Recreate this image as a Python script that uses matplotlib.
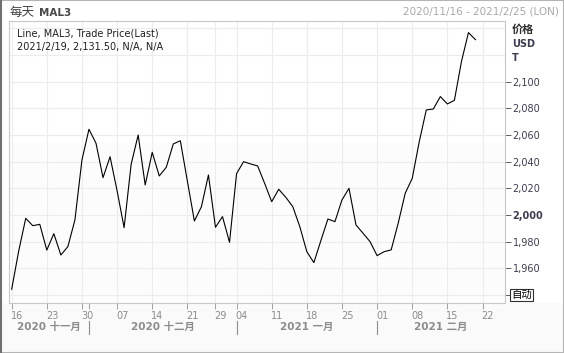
import numpy as np
import pandas as pd
import matplotlib
matplotlib.use('Agg')
import matplotlib.pyplot as plt
import matplotlib.transforms as mtransforms
from matplotlib.lines import Line2D
from matplotlib.patches import Rectangle

plt.rcParams['font.family'] = ['DejaVu Sans', 'Noto Sans CJK SC']

# LME trading days shown on the axis (holidays dropped)
holidays = ['2020-12-25', '2020-12-28', '2021-01-01']
axisDates = pd.bdate_range('2020-11-16', '2021-02-25')
axisDates = axisDates[~axisDates.isin(pd.to_datetime(holidays))]

# daily close, 2020/11/16 .. 2021/2/19
prices = [1944.3, 1973.0, 1997.5, 1992.0, 1993.0, 1973.7, 1986.0, 1970.0, 1976.3, 1996.3,
          2041.3, 2064.3, 2053.8, 2028.0, 2043.7, 2018.2, 1990.5, 2038.0, 2060.0, 2022.5,
          2047.0, 2029.3, 2035.8, 2053.3, 2055.7, 2025.5, 1995.5, 2006.2, 2030.0, 1990.8,
          1998.8, 1979.5, 2031.0, 2040.0, 2038.3, 2036.8, 2023.7, 2010.0, 2019.3, 2013.3,
          2006.3, 1991.3, 1972.5, 1964.3, 1980.8, 1997.0, 1995.0, 2011.3, 2020.0, 1992.5,
          1986.3, 1980.0, 1969.5, 1972.5, 1973.8, 1993.8, 2016.3, 2027.5, 2055.0, 2078.8,
          2079.5, 2088.8, 2083.3, 2086.0, 2115.0, 2136.8, 2131.5]

yTicks = [1960, 1980, 2000, 2020, 2040, 2060, 2080, 2100]
yGrid = list(range(1940, 2141, 20))
monthNames = {11: '十一月', 12: '十二月', 1: '一月', 2: '二月'}

titleLeft = '每天'
titleCode = 'MAL3'
titleRight = '2020/11/16 - 2021/2/25 (LON)'
infoLines = ['Line, MAL3, Trade Price(Last)', '2021/2/19, 2,131.50, N/A, N/A']

W, H = 564, 353
fig = plt.figure(figsize=(W / 100, H / 100), dpi=100)
fig.patch.set_facecolor('white')

# light gray strip behind the date labels
fig.add_artist(Rectangle((0, 0), 1, 1 - 303 / H, transform=fig.transFigure,
                         fc='#fafafa', ec='none', zorder=-1))

axL, axR, axT, axB = 9, 505, 21, 303
ax = fig.add_axes([axL / W, 1 - axB / H, (axR - axL) / W, (axB - axT) / H])

xs = np.arange(len(prices))
ax.set_xlim(-0.38, 70.2)
ax.set_ylim(1934, 2145.5)

# faint shading in lower part of the plot
ax.axhspan(1934, 2054, color='#fcfcfc', zorder=0, lw=0)

# week starts and month starts
weekStart = [i for i in range(len(axisDates))
             if i == 0 or axisDates[i].isocalendar()[1] != axisDates[i - 1].isocalendar()[1]]
monthStart = [i for i in range(len(axisDates))
              if i == 0 or axisDates[i].month != axisDates[i - 1].month]

for i in weekStart:
  ax.axvline(i, color='#ececec', lw=0.8, zorder=1)
for v in yGrid:
  ax.axhline(v, color='#ececec', lw=0.8, zorder=1)

ax.plot(xs, prices, color='black', lw=0.8, zorder=3)

for s in ax.spines.values():
  s.set_color('#c8c8c8')
  s.set_linewidth(0.8)

# x ticks, labels start at the tick
ax.set_xticks(weekStart)
ax.set_xticklabels(['%02d' % axisDates[i].day for i in weekStart], ha='left')
ax.set_xticks([i for i in monthStart[1:] if i not in weekStart], minor=True)
ax.tick_params(axis='x', which='both', length=4, width=0.7, color='#a0a0a0',
               labelsize=7, labelcolor='#8c8c8c', pad=1.5)
for lab in ax.get_xticklabels():
  lab.set_x(lab.get_position()[0])
offset = mtransforms.ScaledTranslation(-1 / 100, 0, fig.dpi_scale_trans)
for lab in ax.get_xticklabels():
  lab.set_transform(lab.get_transform() + offset)

# y ticks on the right
ax.yaxis.tick_right()
ax.set_yticks(yTicks + [1940])
ax.set_yticklabels(['{:,}'.format(v) for v in yTicks] + [''])
ax.tick_params(axis='y', length=4, width=0.7, color='#606060',
               labelsize=7, labelcolor='#3c3c50', pad=1.5)
for lab in ax.get_yticklabels():
  if lab.get_text() == '2,000':
    lab.set_fontweight('bold')

ax.text(1.012, (1940 - 1934) / (2145.5 - 1934), '自动', transform=ax.transAxes,
        fontsize=7.5, color='black', va='center', ha='left',
        bbox=dict(boxstyle='square,pad=0.1', fc='white', ec='#303030', lw=0.8))

# month labels under the ticks
trans = mtransforms.blended_transform_factory(ax.transData, fig.transFigure)
bounds = [ax.get_xlim()[0]] + monthStart[1:] + [ax.get_xlim()[1]]
for k, m in enumerate(monthStart):
  d = axisDates[m]
  cx = (bounds[k] + bounds[k + 1]) / 2
  fig.text(cx, 1 - 327 / H, '%d %s' % (d.year, monthNames[d.month]), transform=trans,
           ha='center', va='center', fontsize=7.5, fontweight='bold', color='#8c8c8c')
for m in monthStart[1:]:
  fig.add_artist(Line2D([m, m], [1 - 334 / H, 1 - 321 / H], transform=trans,
                        color='#8c8c8c', lw=0.8))

# info text inside the plot
fig.text(17 / W, 1 - 33 / H, infoLines[0], fontsize=7, color='#202020', va='center', ha='left')
fig.text(17 / W, 1 - 47 / H, infoLines[1], fontsize=7, color='#202020', va='center', ha='left')

# headers
fig.text(9 / W, 1 - 12.5 / H, titleLeft, fontsize=9, color='#404040', va='center', ha='left')
fig.text(39 / W, 1 - 12.5 / H, titleCode, fontsize=7.5, fontweight='bold', color='#484848',
         va='center', ha='left')
fig.text(559 / W, 1 - 12 / H, titleRight, fontsize=7.5, color='#a8a8a8', va='center', ha='right')

fig.text(512 / W, 1 - 30 / H, '价格', fontsize=8, fontweight='bold', color='#303030',
         va='center', ha='left')
fig.text(512 / W, 1 - 44 / H, 'USD', fontsize=7, fontweight='bold', color='#3c3c50',
         va='center', ha='left')
fig.text(512 / W, 1 - 58 / H, 'T', fontsize=7, fontweight='bold', color='#3c3c50',
         va='center', ha='left')

# outer frame
fig.add_artist(Rectangle((0, 0), 1, 1, transform=fig.transFigure, fill=False,
                         ec='#b4b4b4', lw=1.5))
fig.add_artist(Line2D([1 / W, 1 / W], [0, 1], transform=fig.transFigure,
                      color='#707070', lw=1.5))

fig.savefig('out.png', dpi=100)
